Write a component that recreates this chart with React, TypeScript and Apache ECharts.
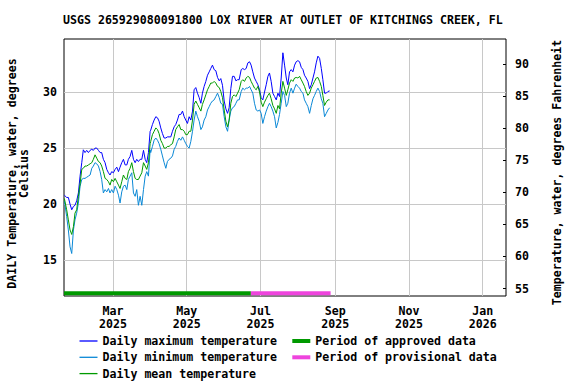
import { useEffect, useRef } from "react";
import * as echarts from "echarts";

const chartTitle = "USGS 265929080091800 LOX RIVER AT OUTLET OF KITCHINGS CREEK, FL";
const leftAxisName = "DAILY Temperature, water, degrees\nCelsius";
const rightAxisName = "Temperature, water, degrees Fahrenheit";

// day of year 2025 (0 = Jan 1 2025)
const days = [
  18.7, 20.6, 22.0, 23.4, 24.8, 26.2, 27.5, 28.9, 30.3, 31.7, 33.1, 34.4, 35.8, 37.2, 38.6, 40.0, 41.4, 42.7, 44.1, 45.5,
  46.9, 48.3, 49.6, 51.0, 52.4, 53.8, 55.2, 56.5, 57.9, 59.3, 60.7, 62.1, 63.5, 64.8, 66.2, 67.6, 69.0, 70.4, 71.7, 73.1,
  74.5, 75.9, 77.3, 78.6, 80.0, 81.4, 82.8, 84.2, 85.6, 86.9, 88.3, 89.7,
  90.2, 91.6, 93.0, 94.4, 95.8, 97.1, 98.5, 99.9, 101.3, 102.7, 104.0, 105.4, 106.8, 108.2, 109.6, 110.9, 112.3, 113.7,
  115.1, 116.5, 117.9, 119.2, 120.6, 122.0, 123.4, 124.8, 126.1, 127.5, 128.9, 130.3, 131.7, 133.0, 134.4, 135.8, 137.2,
  138.6, 139.9, 141.3, 142.7, 144.1, 145.5, 146.9, 148.2, 149.6, 151.0, 152.4, 153.8, 155.1, 156.5, 157.9, 159.3, 160.7,
  162.1, 163.4,
  165.1, 166.4, 167.8, 169.2, 170.6, 172.0, 173.3, 174.7, 176.1, 177.5, 178.9, 180.3, 181.6, 183.0, 184.4, 185.8, 187.2,
  188.5, 189.9, 191.3, 192.7, 194.1, 195.5, 196.8, 198.2, 199.6, 201.0, 202.4, 203.7, 205.1, 206.5, 207.9, 209.3, 210.6,
  212.0, 213.4, 214.8, 216.2, 217.5, 218.9, 220.3, 221.7, 223.1, 224.5, 225.8, 227.2, 228.6, 230.0, 231.4, 232.7, 234.1,
  235.5, 236.9, 238.3,
];

const dailyMax = [
  20.8, 20.6, 20.6, 20.0, 19.5, 19.8, 19.9, 20.3, 21.0, 22.5, 23.7, 24.85, 24.6, 24.8, 24.6, 24.8, 24.9, 24.8, 25.0, 25.0,
  24.8, 24.6, 24.6, 24.0, 23.7, 23.1, 22.8, 22.6, 22.9, 22.8, 23.1, 23.3, 22.9, 23.3, 23.7, 24.0, 23.5, 23.5, 24.0, 24.25,
  24.8, 24.0, 23.7, 24.0, 23.8, 24.0, 24.0, 24.8, 24.0, 23.7, 24.6, 26.5,
  26.6, 27.1, 27.5, 27.8, 27.7, 27.4, 26.8, 26.3, 25.9, 25.9,
  26.0, 26.0, 26.0, 26.5, 26.9, 27.1, 27.5, 28.0, 28.0, 28.3,
  27.8, 27.5, 27.2, 27.8, 27.5, 28.3, 30.2, 30.4, 29.9, 29.5,
  29.0, 29.9, 30.5, 30.95, 31.5, 31.8, 32.1, 32.4, 32.0, 31.9,
  31.3, 31.0, 31.2, 30.6, 29.2, 28.5, 28.1, 28.6, 30.3, 31.4,
  31.4, 31.0, 31.1, 31.1,
  32.0, 32.1, 32.0, 32.1, 32.6, 32.7, 32.4, 31.8, 31.25, 30.95,
  30.65, 30.2, 29.5, 29.3, 30.0, 30.65, 31.4, 31.7, 30.95, 29.9,
  29.6, 29.3, 29.9, 29.6, 31.25, 33.5, 32.4, 31.25, 30.65, 31.8,
  32.0, 31.8, 32.4, 32.7, 32.8, 32.7, 32.2, 32.0, 31.5, 31.25,
  30.95, 30.3, 30.65, 31.25, 31.8, 32.6, 33.2, 33.0, 32.1, 31.1,
  29.9, 29.9, 30.05, 30.1,
];

const dailyMin = [
  20.3, 18.9, 17.7, 16.2, 15.6, 17.7, 18.6, 19.2, 20.1, 21.6, 22.2, 22.3, 22.3, 22.4, 22.5, 22.6, 23.2, 23.4, 23.7, 23.6,
  23.4, 22.9, 22.2, 21.0, 21.3, 21.1, 21.4, 21.0, 21.3, 21.0, 21.6, 21.3, 20.8, 20.1, 21.1, 21.6, 21.7, 21.3, 22.2, 22.5,
  22.8, 21.0, 20.7, 21.3, 19.9, 20.7, 19.9, 21.3, 22.5, 22.9, 22.5, 24.85,
  24.6, 25.15, 25.7, 25.9, 25.7, 25.4, 24.9, 24.3, 23.7, 23.2,
  23.8, 24.0, 24.1, 24.3, 24.9, 25.15, 25.6, 25.9, 25.7, 26.0,
  25.7, 25.4, 25.15, 25.0, 25.6, 26.5, 27.5, 28.3, 27.8, 27.4,
  26.65, 26.9, 27.5, 27.8, 28.4, 28.7, 29.0, 29.2, 29.3, 29.6,
  29.9, 29.5, 29.0, 28.9, 27.8, 26.9, 26.5, 27.5, 28.3, 28.6,
  28.7, 29.0, 29.3, 29.3,
  30.05, 30.35, 30.2, 30.35, 30.35, 30.5, 30.2, 29.9, 29.0, 28.4,
  28.3, 28.4, 28.1, 27.2, 27.8, 28.3, 28.7, 29.0, 28.7, 28.3,
  27.8, 26.8, 27.3, 28.0, 29.0, 30.05, 29.7, 28.7, 29.0, 29.9,
  30.35, 29.9, 30.35, 30.7, 30.5, 30.35, 30.05, 29.9, 29.3, 29.0,
  28.7, 28.1, 28.8, 29.4, 29.7, 30.05, 30.35, 30.05, 29.4, 29.0,
  27.8, 28.1, 28.4, 28.6,
];

const dailyMean = [
  20.5, 19.5, 18.6, 17.7, 17.3, 18.0, 19.2, 19.5, 20.7, 21.8, 23.1, 23.2, 23.4, 23.4, 23.5, 23.6, 23.7, 24.0, 24.4, 24.1,
  23.8, 23.7, 23.4, 22.9, 22.3, 22.2, 22.0, 21.7, 22.2, 22.0, 22.3, 22.0, 21.7, 21.4, 22.0, 22.6, 22.3, 22.2, 22.9, 23.2,
  23.7, 22.9, 22.3, 22.2, 22.2, 22.5, 22.8, 23.7, 23.4, 23.1, 23.7, 25.4,
  25.6, 26.2, 26.5, 26.8, 26.65, 26.3, 25.7, 25.4, 25.0, 25.0,
  25.15, 25.15, 25.3, 25.4, 26.0, 26.65, 26.9, 27.1, 26.65, 26.65,
  26.5, 26.2, 26.2, 26.5, 26.5, 27.5, 28.9, 29.2, 28.9, 28.6,
  28.3, 28.9, 29.3, 29.75, 30.2, 30.5, 30.8, 30.8, 30.95, 30.8,
  30.5, 30.4, 30.05, 29.5, 28.4, 27.4, 26.9, 27.5, 29.0, 29.6,
  29.75, 29.6, 29.9, 30.2,
  30.95, 31.1, 30.95, 31.25, 31.4, 31.3, 30.95, 30.65, 30.35, 30.2,
  30.5, 30.0, 29.1, 28.7, 29.1, 29.4, 29.7, 29.9, 29.4, 28.8,
  28.5, 28.1, 28.8, 28.5, 29.9, 30.95, 30.35, 29.7, 30.2, 30.8,
  31.1, 30.95, 31.25, 31.3, 31.25, 31.4, 31.1, 30.8, 30.5, 30.05,
  29.7, 29.9, 30.35, 30.65, 30.95, 31.25, 31.3, 30.95, 30.5, 29.7,
  28.8, 29.1, 29.3, 29.3,
];

const tickDays = [59, 120, 181, 243, 304, 365];
const tickLabels = ["Mar\n2025", "May\n2025", "Jul\n2025", "Sep\n2025", "Nov\n2025", "Jan\n2026"];
const celsiusTicks = [15, 20, 25, 30];
const fahrenheitTicks = [55, 60, 65, 70, 75, 80, 85, 90];
const xRange = [18.4, 384.3];
const celsiusRange = [11.81, 34.73];
const fahrenheitRange = [53.84, 93.9];
const approvedPeriod = [18.4, 173.1];
const provisionalPeriod = [173.1, 239.1];
const periodLevel = 12.05;

const seriesNames = ["Daily maximum temperature", "Daily minimum temperature", "Daily mean temperature"];
const periodNames = ["Period of approved data", "Period of provisional data"];

const FONT = "'DejaVu Sans Mono', monospace";
const FS = 11.6;

export default function App() {
  const ref = useRef<HTMLDivElement>(null);
  useEffect(() => {
    if (!ref.current) return;
    const chart = echarts.init(ref.current, null, { renderer: "svg" });
    const txt = { fontFamily: FONT, fontWeight: "bold" as const, fontSize: FS, color: "#000" };
    const pair = (vals: number[]) => days.map((d, i) => [d, vals[i]]);
    const option: any = {
      animation: false,
      textStyle: txt,
      title: {
        text: chartTitle,
        left: 63,
        top: 14,
        padding: 0,
        textStyle: { ...txt },
      },
      grid: {
        left: 64,
        top: 39,
        right: 70,
        bottom: 88,
        show: true,
        borderColor: "#000",
        borderWidth: 1,
        containLabel: false,
        outerBoundsMode: "none",
      },
      legend: [
        {
          data: seriesNames,
          orient: "vertical",
          left: 79.5,
          top: 333,
          icon: "rect",
          itemWidth: 18,
          itemHeight: 1.3,
          itemGap: 0.3,
          padding: 0,
          textStyle: { ...txt, lineHeight: 16 },
        },
        {
          data: periodNames,
          orient: "vertical",
          left: 292.3,
          top: 333,
          icon: "rect",
          itemWidth: 18,
          itemHeight: 4,
          itemGap: 0.3,
          padding: 0,
          textStyle: { ...txt, lineHeight: 16 },
        },
      ],
      xAxis: {
        type: "value",
        min: xRange[0],
        max: xRange[1],
        axisLine: { show: false },
        axisTick: { show: false, customValues: tickDays },
        axisLabel: {
          customValues: tickDays,
          formatter: (v: number) => {
            const i = tickDays.indexOf(Math.round(v));
            return i >= 0 ? tickLabels[i] : "";
          },
          margin: 8,
          lineHeight: 13,
          ...txt,
        },
        splitLine: { show: true, lineStyle: { color: "#c8c8c8", width: 1 } },
      },
      yAxis: [
        {
          type: "value",
          position: "left",
          min: celsiusRange[0],
          max: celsiusRange[1],
          name: leftAxisName,
          nameLocation: "middle",
          nameRotate: 90,
          nameGap: 34,
          nameTextStyle: { ...txt, lineHeight: 12, padding: [0, 12, 0, 0] },
          axisLine: { show: false },
          axisTick: { show: false, customValues: celsiusTicks },
          axisLabel: { customValues: celsiusTicks, margin: 7, ...txt },
          splitLine: { show: true, lineStyle: { color: "#c8c8c8", width: 1 } },
        },
        {
          type: "value",
          position: "right",
          min: fahrenheitRange[0],
          max: fahrenheitRange[1],
          name: rightAxisName,
          nameLocation: "middle",
          nameRotate: 90,
          nameGap: 45,
          nameTextStyle: { ...txt, padding: [0, 10, 0, 0] },
          axisLine: { show: false },
          axisTick: { show: true, inside: true, length: 3, customValues: fahrenheitTicks, lineStyle: { color: "#000" } },
          axisLabel: { customValues: fahrenheitTicks, margin: 9, ...txt },
          splitLine: { show: false },
        },
      ],
      series: [
        {
          name: seriesNames[0],
          type: "line",
          data: pair(dailyMax),
          symbol: "none",
          color: "#0000ff",
          lineStyle: { width: 1, color: "#0000ff" },
          z: 4,
        },
        {
          name: seriesNames[1],
          type: "line",
          data: pair(dailyMin),
          symbol: "none",
          color: "#0a88d6",
          lineStyle: { width: 1, color: "#0a88d6" },
          z: 3,
        },
        {
          name: seriesNames[2],
          type: "line",
          data: pair(dailyMean),
          symbol: "none",
          color: "#009a00",
          lineStyle: { width: 1, color: "#009a00" },
          z: 5,
        },
        {
          name: periodNames[0],
          type: "line",
          data: approvedPeriod.map((d) => [d, periodLevel]),
          symbol: "none",
          color: "#009900",
          lineStyle: { width: 4, color: "#009900" },
          z: 6,
        },
        {
          name: periodNames[1],
          type: "line",
          data: provisionalPeriod.map((d) => [d, periodLevel]),
          symbol: "none",
          color: "#ee44dd",
          lineStyle: { width: 4, color: "#ee44dd" },
          z: 6,
        },
      ],
    };
    chart.setOption(option);
    return () => chart.dispose();
  }, []);
  return (
    <div
      ref={ref}
      style={{ position: "fixed", left: 0, top: 0, width: 576, height: 384, background: "#fff" }}
    />
  );
}
